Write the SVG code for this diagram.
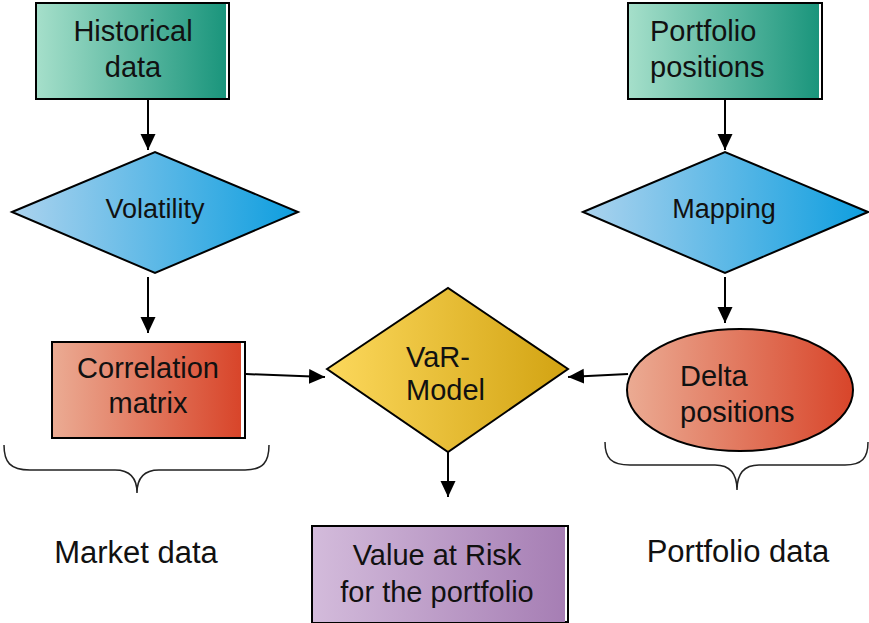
<svg xmlns="http://www.w3.org/2000/svg" width="869" height="623" viewBox="0 0 869 623">
<defs>
<linearGradient id="gTeal" x1="0" y1="0" x2="1" y2="0"><stop offset="0" stop-color="#a5dfca"/><stop offset="1" stop-color="#1a957c"/></linearGradient>
<linearGradient id="gBlue" x1="0" y1="0" x2="1" y2="0"><stop offset="0" stop-color="#acd3ee"/><stop offset="1" stop-color="#0e9edf"/></linearGradient>
<linearGradient id="gRed" x1="0" y1="0" x2="1" y2="0"><stop offset="0" stop-color="#ebab93"/><stop offset="1" stop-color="#d8452a"/></linearGradient>
<linearGradient id="gGold" x1="0" y1="0" x2="1" y2="0"><stop offset="0" stop-color="#fcd85c"/><stop offset="1" stop-color="#d2a312"/></linearGradient>
<linearGradient id="gPurple" x1="0" y1="0" x2="1" y2="0"><stop offset="0" stop-color="#d3bbdb"/><stop offset="1" stop-color="#a67eb4"/></linearGradient>
<marker id="arr" markerUnits="userSpaceOnUse" markerWidth="17" markerHeight="17" viewBox="0 0 17 17" refX="16" refY="8.5" orient="auto">
<path d="M0,1 L16,8.5 L0,16 Z" fill="#000"/>
</marker>
</defs>
<style>
.lbl{font-family:"Liberation Sans",Arial,sans-serif;fill:#111;}
.big{font-size:29px;}
.mid{font-size:27px;}
.cap{font-size:31px;}
.edge{fill:#fff;stroke:#000;stroke-width:2;}
.sh{stroke:#000;stroke-width:2;}
.conn{stroke:#000;stroke-width:2;fill:none;marker-end:url(#arr);}
.brace{stroke:#222;stroke-width:1.5;fill:none;}
</style>

<g id="historical-data">
<rect class="edge" x="36" y="3" width="193" height="96"/>
<rect x="37" y="4" width="189" height="94" fill="url(#gTeal)"/>
<text class="lbl big" x="133" y="41" text-anchor="middle">Historical</text>
<text class="lbl big" x="133" y="77" text-anchor="middle">data</text>
</g>

<g id="portfolio-positions">
<rect class="edge" x="628" y="3" width="194" height="96"/>
<rect x="629" y="4" width="190" height="94" fill="url(#gTeal)"/>
<text class="lbl big" x="650" y="41">Portfolio</text>
<text class="lbl big" x="650" y="77">positions</text>
</g>

<g id="volatility">
<polygon class="sh" points="12,212 155,152 298,212 155,273" fill="url(#gBlue)"/>
<text class="lbl mid" x="155" y="218" text-anchor="middle">Volatility</text>
</g>

<g id="mapping">
<polygon class="sh" points="583,212 725,152 868,212 725,273" fill="url(#gBlue)"/>
<text class="lbl mid" x="724" y="218" text-anchor="middle">Mapping</text>
</g>

<g id="correlation-matrix">
<rect class="edge" x="52" y="342" width="193" height="96"/>
<rect x="53" y="343" width="188" height="94" fill="url(#gRed)"/>
<text class="lbl big" x="148" y="378" text-anchor="middle">Correlation</text>
<text class="lbl big" x="148" y="413" text-anchor="middle">matrix</text>
</g>

<g id="var-model">
<polygon class="sh" points="327,369 448,288 568,369 448,452" fill="url(#gGold)"/>
<text class="lbl big" x="406" y="367">VaR-</text>
<text class="lbl big" x="406" y="400">Model</text>
</g>

<g id="delta-positions">
<ellipse class="sh" cx="740" cy="390" rx="113" ry="61" fill="url(#gRed)"/>
<text class="lbl big" x="680" y="386">Delta</text>
<text class="lbl big" x="680" y="422">positions</text>
</g>

<g id="value-at-risk">
<rect class="edge" x="312" y="526" width="256" height="96"/>
<rect x="313" y="527" width="252" height="95" fill="url(#gPurple)"/>
<text class="lbl big" x="437" y="565" text-anchor="middle">Value at Risk</text>
<text class="lbl big" x="437" y="602" text-anchor="middle">for the portfolio</text>
</g>

<g id="market-data">
<path class="brace" d="M4,445 C4,462 10,470 30,470 L115,470 C130,470 137,478 137,493 C137,478 144,470 159,470 L245,470 C263,470 269,462 269,445"/>
<text class="lbl cap" x="136" y="563" text-anchor="middle">Market data</text>
</g>

<g id="portfolio-data">
<path class="brace" d="M605,442 C605,458 611,465 630,465 L715,465 C730,465 737,473 737,490 C737,473 744,465 759,465 L845,465 C862,465 868,458 868,442"/>
<text class="lbl cap" x="738" y="562" text-anchor="middle">Portfolio data</text>
</g>

<g id="connectors">
<line class="conn" x1="148" y1="100" x2="148" y2="150"/>
<line class="conn" x1="148" y1="277" x2="148" y2="333"/>
<line class="conn" x1="725" y1="100" x2="725" y2="150"/>
<line class="conn" x1="725" y1="277" x2="725" y2="323"/>
<line class="conn" x1="246" y1="374" x2="325" y2="377"/>
<line class="conn" x1="628" y1="374" x2="568" y2="377"/>
<line class="conn" x1="448" y1="452" x2="448" y2="497"/>
</g>
</svg>
